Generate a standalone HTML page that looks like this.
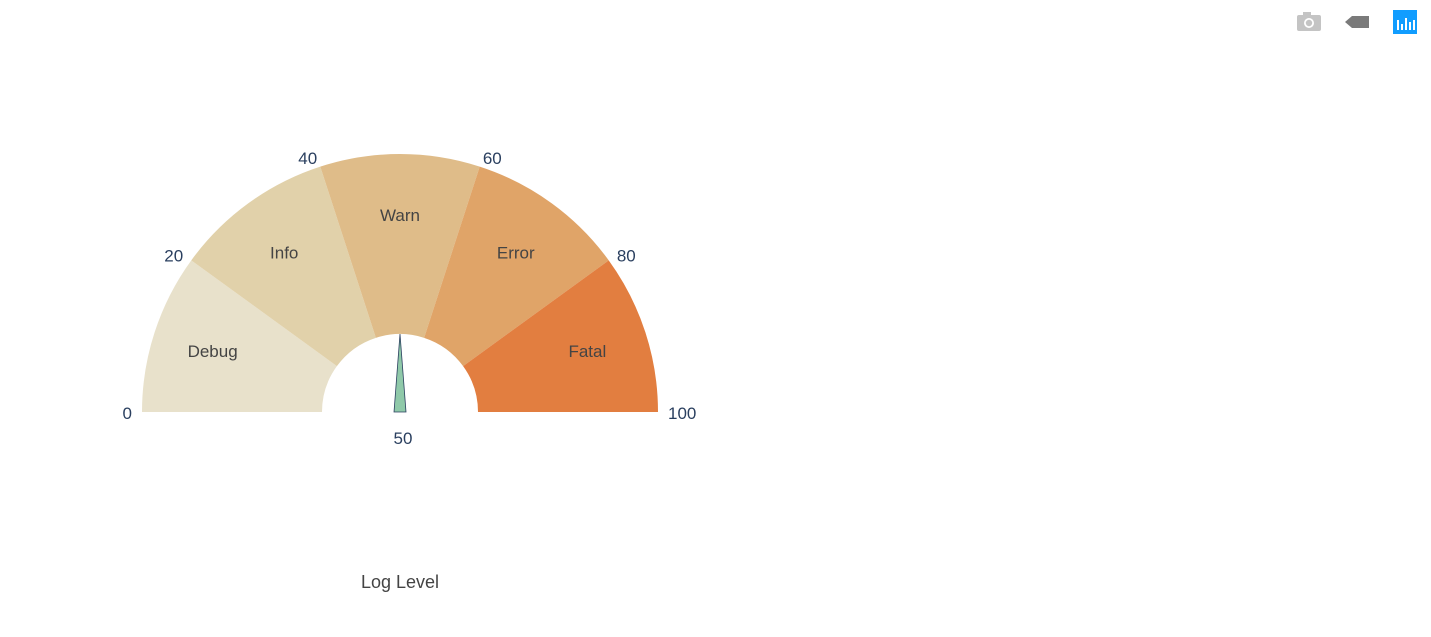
<!DOCTYPE html>
<html><head><meta charset="utf-8"><style>
body{margin:0;background:#fff;width:1431px;height:632px;overflow:hidden;font-family:"Liberation Sans","DejaVu Sans",sans-serif}
</style></head><body>
<svg id="chart" width="1431" height="632" xmlns="http://www.w3.org/2000/svg">
<g>
 <g fill="#c4c4c4">
  <rect x="1297" y="15" width="24" height="16" rx="2"/><rect x="1303" y="12" width="8" height="4"/>
  <circle cx="1309" cy="23" r="5" fill="#fff"/><circle cx="1309" cy="23" r="3.2" fill="#c4c4c4"/>
 </g>
 <path d="M1345 22 L1352 16 L1369 16 L1369 28 L1352 28 Z" fill="#7a7a7a"/>
 <g>
  <rect x="1393" y="10" width="24" height="24" fill="#119dff"/>
  <g fill="#fff"><rect x="1397" y="20" width="2" height="10"/><rect x="1401" y="24" width="2" height="6"/><rect x="1405" y="18" width="2" height="12"/><rect x="1409" y="22" width="2" height="8"/><rect x="1413" y="20" width="2" height="10"/></g>
 </g>
</g>
<g id="gauge"></g>
<text x="400" y="588" text-anchor="middle" font-size="18" fill="#444">Log Level</text>
</svg>
<script>
const categories = ["Debug","Info","Warn","Error","Fatal"];
const bounds = [0,20,40,60,80,100];
const colors = ["#e8e1cb","#e1d1aa","#dfbc89","#e0a468","#e27e40"];
const tickLabels = ["0","20","40","60","80","100"];
const needleValue = 50;
const cx=400, cy=412, R=258, r0=78;
const NS="http://www.w3.org/2000/svg";
const g=document.getElementById('gauge');
function ang(v){return Math.PI*(1-v/100);}
function pt(v,rad){const a=ang(v);return [cx+rad*Math.cos(a), cy-rad*Math.sin(a)];}
categories.forEach((c,i)=>{
  const a=pt(bounds[i],R), b=pt(bounds[i+1],R), d=pt(bounds[i+1],r0), e=pt(bounds[i],r0);
  const p=document.createElementNS(NS,'path');
  p.setAttribute('d',`M${a} A${R},${R} 0 0 1 ${b} L${d} A${r0},${r0} 0 0 0 ${e} Z`);
  p.setAttribute('fill',colors[i]);
  
  
  g.appendChild(p);
  const m=pt((bounds[i]+bounds[i+1])/2,197);
  const t=document.createElementNS(NS,'text');
  t.setAttribute('x',m[0]);t.setAttribute('y',m[1]+6);
  t.setAttribute('text-anchor','middle');t.setAttribute('font-size','17');t.setAttribute('fill','#444');
  t.textContent=c;
  
  
  g.appendChild(t);
});
bounds.forEach((v,i)=>{
  const m=pt(v,268);
  const t=document.createElementNS(NS,'text');
  const anchor = v<50?'end':(v>50?'start':'middle');
  t.setAttribute('x',m[0]);t.setAttribute('y',m[1]+7);
  t.setAttribute('text-anchor',anchor);t.setAttribute('font-size','17');t.setAttribute('fill','#2a3f5f');
  t.textContent=tickLabels[i];
  
  
  g.appendChild(t);
});
const tip=pt(needleValue,78), bl=[cx-6,cy], br=[cx+6,cy];
const n=document.createElementNS(NS,'path');
n.setAttribute('d',`M${bl} L${tip} L${br} Z`);
n.setAttribute('fill','#8fc9a9');n.setAttribute('stroke','#2a3f5f');n.setAttribute('stroke-width','0.8');


g.appendChild(n);
const vt=document.createElementNS(NS,'text');
vt.setAttribute('x',cx+3);vt.setAttribute('y',cy+32);vt.setAttribute('text-anchor','middle');
vt.setAttribute('font-size','17');vt.setAttribute('fill','#2a3f5f');
vt.textContent=String(needleValue);


g.appendChild(vt);
</script>
</body></html>
